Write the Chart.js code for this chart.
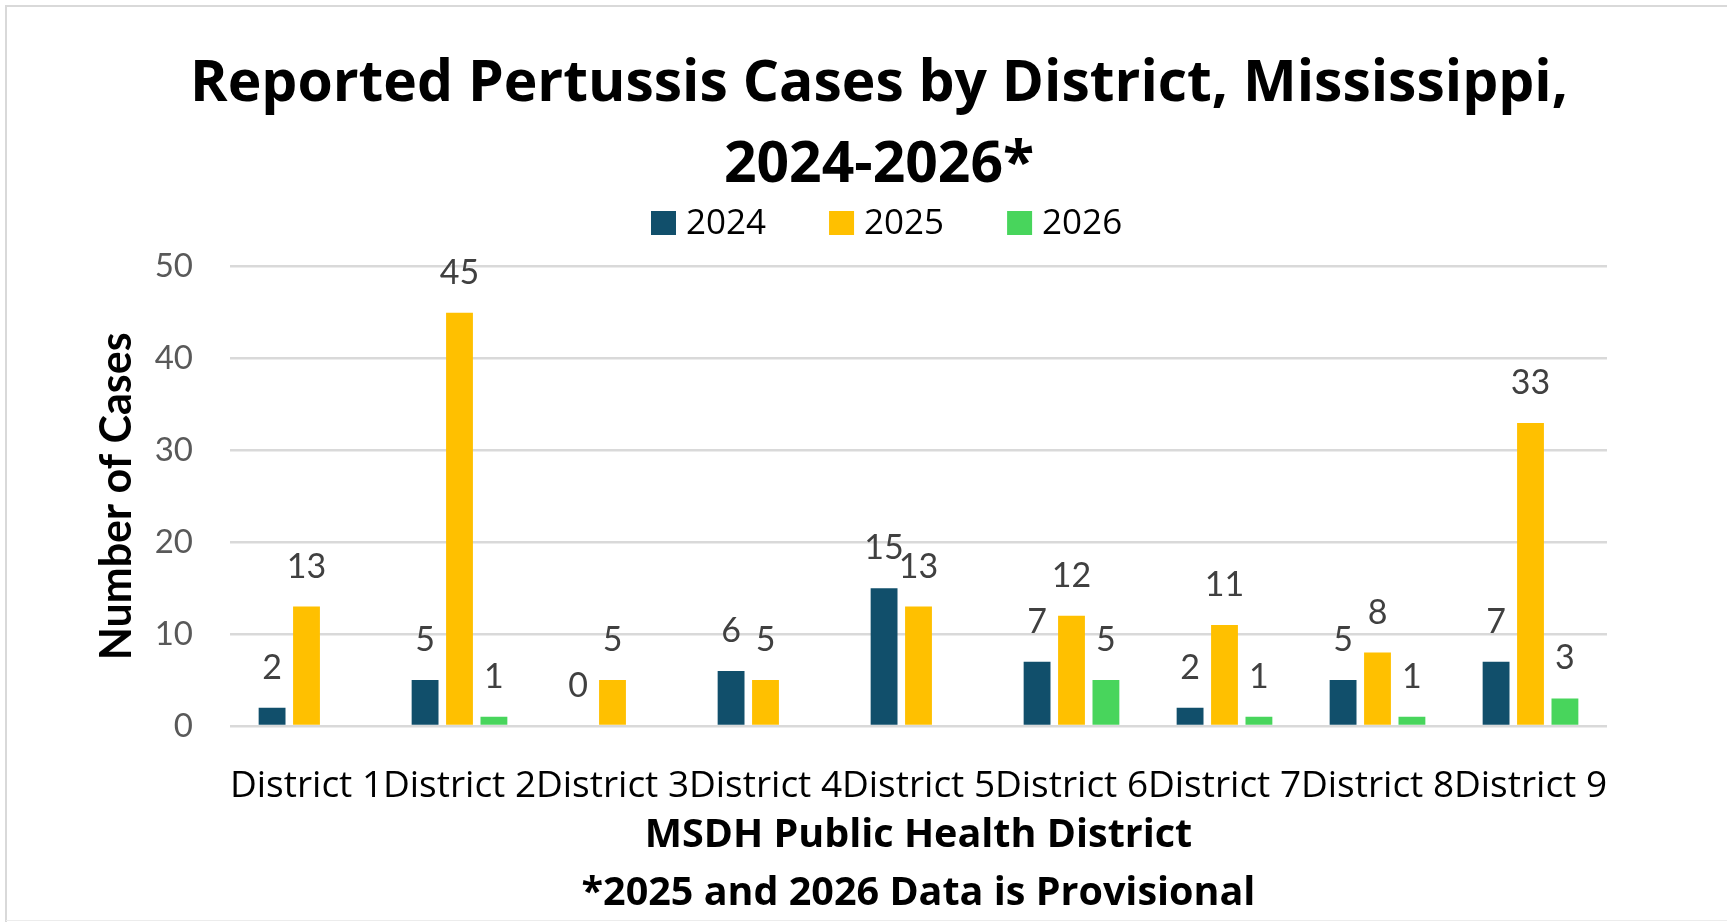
<!DOCTYPE html>
<html>
<head>
<meta charset="utf-8">
<title>Reported Pertussis Cases by District, Mississippi, 2024-2026*</title>
<script src="https://cdn.jsdelivr.net/npm/chart.js@4.4.1/dist/chart.umd.min.js"></script>
<style>
  html, body { margin: 0; padding: 0; overflow: hidden; background: #fff; }
  #wrap { position: relative; width: 1758px; height: 922px; }
</style>
</head>
<body>
<div id="wrap"><canvas id="pertussisChart"></canvas></div>
<script>
// Chart data
const districts = ['District 1', 'District 2', 'District 3', 'District 4', 'District 5',
                   'District 6', 'District 7', 'District 8', 'District 9'];
const years = ['2024', '2025', '2026'];
const cases2024 = [2, 5, 0, 6, 15, 7, 2, 5, 7];
const cases2025 = [13, 45, 5, 5, 13, 12, 11, 8, 33];
const cases2026 = [null, 1, null, null, null, 5, 1, 1, 3]; // blank = not reported
const yTicks = [0, 10, 20, 30, 40, 50];
const yearColors = ['#114f6b', '#ffc000', '#48d55c'];

// light frame round the chart
const frame = {
    id: 'frame',
    beforeDraw(chart) {
        const c = chart.ctx;
        c.save();
        c.fillStyle = '#fff';
        c.fillRect(0, 0, chart.width, chart.height);
        c.strokeStyle = '#d9d9d9';
        c.lineWidth = 2;
        c.beginPath();
        c.moveTo(6, chart.height);
        c.lineTo(6, 6);
        c.lineTo(chart.width, 6);
        c.stroke();
        c.strokeStyle = '#ececec';
        c.lineWidth = 1;
        c.beginPath();
        c.moveTo(6, 920.5);
        c.lineTo(chart.width, 920.5);
        c.stroke();
        c.restore();
    }
};

// value labels above the bars
const valueLabels = {
    id: 'valueLabels',
    afterDatasetsDraw(chart) {
        const c = chart.ctx;
        c.save();
        c.font = '34px Lato';
        c.fillStyle = '#404040';
        c.textAlign = 'center';
        c.textBaseline = 'alphabetic';
        chart.data.datasets.forEach((ds, i) => {
            chart.getDatasetMeta(i).data.forEach((bar, j) => {
                const v = ds.data[j];
                if (v === null) return;
                c.fillText(String(v), bar.x, bar.y - 29);
            });
        });
        c.restore();
    }
};

// legend, drawn by hand so the spacing matches
const yearLegend = {
    id: 'yearLegend',
    afterDraw(chart) {
        const c = chart.ctx;
        c.save();
        c.font = '35px "Open Sans"';
        const box = 25, textGap = 10, itemGap = 63;
        let x = 651;
        const y = 223;
        chart.data.datasets.forEach(ds => {
            c.fillStyle = ds.backgroundColor;
            c.fillRect(x, y - 12, box, 24);
            c.fillStyle = '#000';
            c.textAlign = 'left';
            c.textBaseline = 'middle';
            c.fillText(ds.label, x + box + textGap, y + 1);
            x += box + textGap + c.measureText(ds.label).width + itemGap;
        });
        c.restore();
    }
};

function drawChart() {
    const ctx = document.getElementById('pertussisChart').getContext('2d');
    new Chart(ctx, {
        type: 'bar',
        data: {
            labels: districts,
            datasets: [cases2024, cases2025, cases2026].map((vals, i) => ({
                label: years[i],
                data: vals,
                yAxisID: 'y',
                backgroundColor: yearColors[i],
                borderWidth: 0,
                categoryPercentage: 0.675,
                barPercentage: 0.78
            }))
        },
        options: {
            responsive: true,
            maintainAspectRatio: false,
            animation: false,
            devicePixelRatio: 1,
            layout: { padding: 0 },
            plugins: {
                legend: { display: false },
                tooltip: { enabled: false },
                title: {
                    display: true,
                    text: ['Reported Pertussis Cases by District, Mississippi,', '2024-2026*'],
                    color: '#000',
                    font: { family: '"Open Sans"', size: 57, weight: 'bold', lineHeight: 1.41 },
                    padding: { top: 45, bottom: 61 }
                }
            },
            scales: {
                x: {
                    grid: { display: false, drawTicks: false },
                    border: { display: false },
                    ticks: {
                        color: '#000',
                        font: { family: '"Open Sans"', size: 37 },
                        padding: 38,
                        maxRotation: 0,
                        minRotation: 0,
                        autoSkip: false
                    },
                    title: {
                        display: true,
                        text: ['MSDH Public Health District', '*2025 and 2026 Data is Provisional'],
                        color: '#000',
                        font: { family: '"Open Sans"', size: 39.5, weight: 'bold', lineHeight: 1.45 },
                        padding: { top: 0, bottom: 0 }
                    },
                    afterFit(scale) { scale.height = 196; }
                },
                y: {
                    min: yTicks[0],
                    max: yTicks[yTicks.length - 1],
                    grid: { color: '#d9d9d9', lineWidth: 2.5, drawTicks: false },
                    border: { display: false },
                    ticks: {
                        stepSize: yTicks[1] - yTicks[0],
                        color: '#595959',
                        font: { family: 'Lato', size: 33 },
                        padding: 37
                    },
                    title: {
                        display: true,
                        text: 'Number of Cases',
                        color: '#000',
                        font: { family: 'Lato', size: 43, weight: 'bold', lineHeight: 1.2 },
                        padding: { top: 91, bottom: 0 }
                    },
                    afterFit(scale) { scale.width = 230; }
                },
                // empty right-hand margin so the plot ends where the original does
                margin: {
                    type: 'linear',
                    position: 'right',
                    grid: { display: false, drawTicks: false },
                    border: { display: false },
                    ticks: { display: false },
                    afterFit(scale) { scale.width = 151; }
                }
            }
        },
        plugins: [frame, valueLabels, yearLegend]
    });
}

Promise.all([
    document.fonts.load('bold 57px "Open Sans"'),
    document.fonts.load('35px "Open Sans"'),
    document.fonts.load('33px Lato'),
    document.fonts.load('bold 43px Lato')
]).then(drawChart, drawChart);
</script>
</body>
</html>
